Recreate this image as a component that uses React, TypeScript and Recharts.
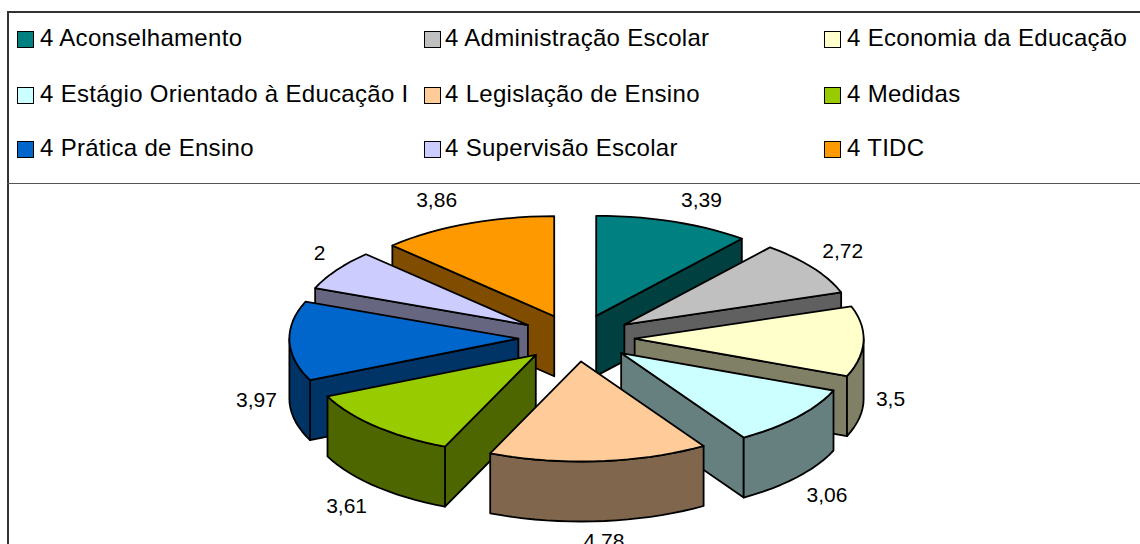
import { PieChart, Pie, Legend } from 'recharts'

const names = [
  'Aconselhamento',
  'Administração Escolar',
  'Economia da Educação',
  'Estágio Orientado à Educação I',
  'Legislação de Ensino',
  'Medidas',
  'Prática de Ensino',
  'Supervisão Escolar',
  'TIDC',
]
const values = [3.39, 2.72, 3.5, 3.06, 4.78, 3.61, 3.97, 2, 3.86]
const valueLabels = ['3,39', '2,72', '3,5', '3,06', '4,78', '3,61', '3,97', '2', '3,86']
const topColors = ['#008080', '#C0C0C0', '#FFFFCC', '#CCFFFF', '#FFCC99', '#99CC00', '#0066CC', '#CCCCFF', '#FF9900']
const sideColors = ['#004040', '#606060', '#808066', '#668080', '#80664D', '#4D6600', '#003366', '#666680', '#804D00']

// back to front, so nearer slices cover the walls of farther ones
const drawOrder = [0, 8, 1, 7, 6, 2, 5, 3, 4]

const data = names.map((name, i) => ({ name, value: values[i] }))

const W = 1140
const H = 544
const FONT = '"Liberation Sans", Arial, sans-serif'
const CX = 576.5
const CY = 338
const RADIUS = 229
const SQUASH = 0.437 // ellipse ry / rx
const DEPTH = 60
const EXPLODE_X = 0.254
const EXPLODE_Y = 0.235
const LABEL_NUDGE = [[28, -22], [30, -17], [27, 58], [30, 78], [5, 80], [-29, 80], [-33, 59], [-17, -17], [-30, -24]]

const legendCols = [17, 424, 824]
const legendTextGap = [23, 21, 23]
const legendRows = [31, 87, 141]

const rad = (d: number) => (d * Math.PI) / 180

function rimPath(x0: number, y0: number, r: number, from: number, to: number, dy = 0) {
  // from/to are clockwise degrees measured from 12 o'clock
  const pts: string[] = []
  const steps = Math.max(2, Math.ceil(Math.abs(to - from) / 3))
  for (let s = 0; s <= steps; s++) {
    const a = rad(from + ((to - from) * s) / steps)
    pts.push(`${(x0 + r * Math.sin(a)).toFixed(1)} ${(y0 - r * SQUASH * Math.cos(a) + dy).toFixed(1)}`)
  }
  return pts
}

function Slice3D(props: any) {
  const { cx, cy, outerRadius: r, startAngle, endAngle, index } = props
  const from = 90 - startAngle
  const to = 90 - endAngle
  const mid = rad((from + to) / 2)
  const x0 = cx + r * EXPLODE_X * Math.sin(mid)
  const y0 = cy - r * SQUASH * EXPLODE_Y * Math.cos(mid)
  const side = sideColors[index]
  const line = { stroke: '#000', strokeWidth: 1.8, strokeLinejoin: 'round' as const }
  const pt = (a: number) => [x0 + r * Math.sin(rad(a)), y0 - r * SQUASH * Math.cos(rad(a))]
  const wall = (a: number) => {
    const [x, y] = pt(a)
    return `M${x0} ${y0}L${x} ${y}L${x} ${y + DEPTH}L${x0} ${y0 + DEPTH}Z`
  }
  const arcFrom = Math.max(from, 90)
  const arcTo = Math.min(to, 270)
  return (
    <g>
      {Math.sin(rad(from)) < -0.001 && <path d={wall(from)} fill={side} {...line} />}
      {Math.sin(rad(to)) > 0.001 && <path d={wall(to)} fill={side} {...line} />}
      {arcFrom < arcTo && (
        <path
          d={`M${rimPath(x0, y0, r, arcFrom, arcTo).join('L')}L${rimPath(x0, y0, r, arcTo, arcFrom, DEPTH).join('L')}Z`}
          fill={side}
          {...line}
        />
      )}
      <path d={`M${x0} ${y0}L${rimPath(x0, y0, r, from, to).join('L')}Z`} fill={topColors[index]} {...line} />
    </g>
  )
}

function ValueLabel(props: any) {
  const { cx, cy, outerRadius: r, midAngle, index } = props
  const a = rad(90 - midAngle)
  const x = cx + r * (1 + EXPLODE_X) * Math.sin(a) + LABEL_NUDGE[index][0]
  const y = cy - r * SQUASH * (1 + 0.23) * Math.cos(a) + LABEL_NUDGE[index][1]
  return (
    <text x={x} y={y} dy={7} textAnchor="middle" fontFamily={FONT} fontSize={21} fill="#000">
      {valueLabels[index]}
    </text>
  )
}

function LegendBlock() {
  return (
    <div style={{ position: 'relative', width: W, height: 184, fontFamily: FONT }}>
      {names.map((name, i) => {
        const left = legendCols[i % 3]
        const top = legendRows[Math.floor(i / 3)]
        return (
          <div key={name}>
            <div
              style={{
                position: 'absolute',
                left,
                top,
                width: 15,
                height: 15,
                background: topColors[i],
                border: '1.5px solid #000',
              }}
            />
            <div
              style={{
                position: 'absolute',
                left: left + legendTextGap[i % 3],
                top: top - 7,
                fontSize: 24,
                letterSpacing: 0.3,
                lineHeight: '28px',
                whiteSpace: 'nowrap',
                color: '#000',
              }}
            >
              4 {name}
            </div>
          </div>
        )
      })}
    </div>
  )
}

export default function App() {
  return (
    <div style={{ position: 'absolute', left: 0, top: 0, width: W, height: H, overflow: 'hidden', background: '#fff' }}>
      <PieChart width={W} height={H} margin={{ top: 0, right: 0, bottom: 0, left: 0 }}>
        <Legend content={<LegendBlock />} wrapperStyle={{ left: 0, top: 0, width: W }} />
        {drawOrder.map((k) => (
          <Pie
            key={k}
            data={data}
            dataKey="value"
            nameKey="name"
            cx={CX}
            cy={CY}
            outerRadius={RADIUS}
            startAngle={90}
            endAngle={-270}
            isAnimationActive={false}
            legendType="none"
            shape={(p: any) => (p.index === k ? <Slice3D {...p} /> : <g />)}
            inactiveShape={(p: any) => (p.index === k ? <Slice3D {...p} /> : <g />)}
            activeShape={(p: any) => (p.index === k ? <Slice3D {...p} /> : <g />)}
          />
        ))}
        <Pie
          data={data}
          dataKey="value"
          cx={CX}
          cy={CY}
          outerRadius={RADIUS}
          startAngle={90}
          endAngle={-270}
          isAnimationActive={false}
          legendType="none"
          shape={() => <g />}
          inactiveShape={() => <g />}
          activeShape={() => <g />}
          labelLine={false}
          label={ValueLabel}
        />
      </PieChart>
      <div style={{ position: 'absolute', left: 7, top: 11, width: W - 7, height: H, borderLeft: '2px solid #333', borderTop: '2px solid #333' }} />
      <div style={{ position: 'absolute', left: 7, top: 183, width: W - 7, height: 1, background: '#555' }} />
    </div>
  )
}
